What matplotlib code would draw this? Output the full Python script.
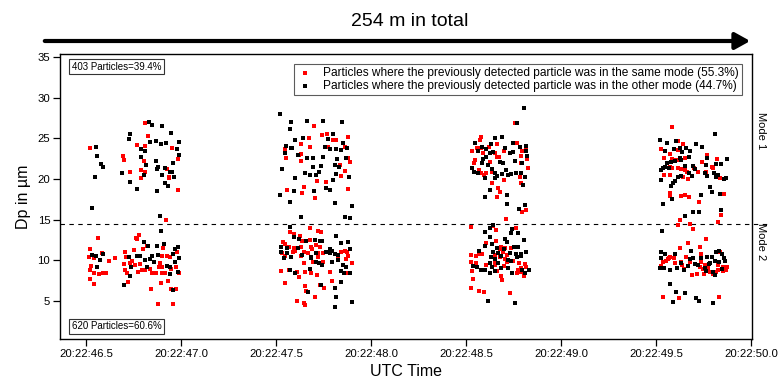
import matplotlib
matplotlib.use("Agg")
import matplotlib.pyplot as plt

# ---------------- data (time = seconds after 20:22, Dp in µm) ----------------
# Segment 1
same_seg1 = [(46.81,26.92),(46.828,25.36),(46.768,24.18),(46.809,24.1),(46.953,23.85),(46.523,23.85),(46.693,22.82),(46.698,22.33),(46.807,22.25),(46.982,22.45),(46.788,21.1),(46.733,20.9),(46.811,20.82),(46.926,21.23),(46.935,20.28),(46.939,20.07),(46.79,20.16),(46.983,18.64),(46.923,14.95),
    (46.781,13.1),(46.768,12.57),(46.763,12.69),(46.561,12.69),(46.521,11.34),(46.584,10.93),(46.707,11.05),(46.751,11.26),(46.798,11.34),(46.821,11.75),(46.904,11.46),(46.979,11.05),(46.518,10.44),(46.54,10.24),(46.654,10.32),(46.619,9.95),(46.742,9.95),(46.9,10.52),(46.926,10.56),(46.944,10.44),(46.711,10.44),(46.733,9.62),(46.76,9.42),(46.786,9.54),(46.891,9.7),(46.9,9.21),(46.528,9.34),(46.523,8.8),(46.54,8.39),(46.567,8.31),(46.588,8.39),(46.605,8.47),(46.707,8.8),(46.716,8.47),(46.774,8.6),(46.812,8.8),(46.835,8.88),(46.847,8.39),(46.868,8.47),(46.9,8.39),(46.918,8.47),(46.949,8.88),(46.882,9.21),(46.976,9.21),(46.988,8.39),(46.519,7.7),(46.542,7.08),(46.719,7.28),(46.895,7.24),(46.931,7.45),(46.842,6.43),(46.946,6.5),(46.976,6.4),(46.879,4.58),(46.96,4.58),(46.795,8.8),(46.698,9.54)]
other_seg1 = [(46.83,27.05),(46.847,26.64),(46.9,26.55),(46.733,25.53),(46.725,24.9),(46.947,25.61),(46.838,24.58),(46.868,24.71),(46.897,24.34),(46.923,24.5),(46.988,24.58),(46.554,23.97),(46.791,23.76),(46.809,23.48),(46.979,23.76),(46.988,22.95),(46.558,22.82),(46.789,22.74),(46.868,22.25),(46.956,22.0),(46.579,21.8),(46.59,21.5),(46.816,21.67),(46.879,21.51),(46.914,21.39),(46.874,21.18),(46.94,20.9),(46.953,20.82),(46.69,20.69),(46.803,20.49),(46.902,20.49),(46.965,20.2),(46.546,20.2),(46.733,19.58),(46.914,19.46),(46.932,19.17),(46.768,18.72),(46.874,18.52),(46.533,16.43),(46.888,15.4),
    (46.895,13.64),(46.803,12.29),(46.909,12.0),(46.826,11.75),(46.874,11.75),(46.982,11.67),(46.97,11.34),(46.532,10.64),(46.553,10.56),(46.588,10.77),(46.725,10.44),(46.768,10.52),(46.786,10.56),(46.847,10.56),(46.879,10.64),(46.956,10.77),(46.575,10.03),(46.812,10.03),(46.839,10.11),(46.856,9.83),(46.991,10.24),(46.56,9.13),(46.739,9.13),(46.821,9.21),(46.926,9.29),(46.944,9.21),(46.97,9.83),(46.944,8.31),(46.984,8.6),(46.73,8.1),(46.702,6.96),(46.958,6.34)]
# Segment 2
same_seg2 = [(47.7,26.48),(47.742,25.41),(47.77,25.49),(47.672,25.0),(47.8,24.84),(47.818,24.84),(47.879,25.12),(47.633,24.3),(47.681,23.98),(47.774,23.98),(47.861,23.98),(47.549,23.65),(47.633,23.07),(47.619,22.95),(47.879,22.54),(47.888,22.05),(47.551,22.54),(47.633,22.25),(47.839,21.72),(47.865,21.02),(47.84,20.41),(47.716,19.75),(47.765,19.67),(47.647,19.05),(47.879,18.77),(47.558,18.61),(47.637,18.32),(47.704,17.7),
    (47.677,13.93),(47.721,13.6),(47.735,13.52),(47.572,13.52),(47.593,13.19),(47.628,12.99),(47.677,12.5),(47.639,12.37),(47.537,12.21),(47.546,12.0),(47.567,11.67),(47.593,11.47),(47.633,11.67),(47.683,11.67),(47.712,11.88),(47.73,11.67),(47.69,11.35),(47.647,11.06),(47.532,10.85),(47.59,11.06),(47.602,11.18),(47.669,10.85),(47.721,10.85),(47.747,10.94),(47.844,11.06),(47.876,11.06),(47.549,10.57),(47.633,10.53),(47.721,10.36),(47.826,10.32),(47.879,10.57),(47.695,9.83),(47.647,9.71),(47.747,9.83),(47.867,10.12),(47.9,9.63),(47.568,8.8),(47.528,8.68),(47.612,8.6),(47.651,8.52),(47.686,8.47),(47.718,8.19),(47.783,8.6),(47.876,8.47),(47.619,7.9),(47.549,7.17),(47.795,7.49),(47.655,6.84),(47.73,6.96),(47.66,6.26),(47.751,6.55),(47.704,5.44),(47.612,4.99),(47.647,4.71),(47.654,4.5),(47.865,11.14)]
other_seg2 = [(47.521,27.99),(47.577,27.05),(47.576,26.15),(47.663,27.17),(47.747,27.17),(47.847,27.05),(47.8,25.53),(47.774,24.92),(47.642,25.0),(47.598,24.8),(47.554,24.1),(47.581,23.85),(47.586,23.77),(47.76,23.98),(47.786,23.65),(47.818,23.69),(47.84,23.57),(47.853,24.5),(47.874,23.85),(47.549,23.15),(47.616,22.95),(47.665,22.54),(47.695,22.54),(47.747,22.75),(47.823,22.42),(47.868,22.62),(47.809,21.72),(47.832,21.51),(47.739,21.6),(47.695,21.51),(47.533,21.19),(47.651,20.78),(47.725,20.9),(47.681,20.49),(47.709,20.49),(47.818,20.61),(47.882,20.2),(47.598,20.16),(47.8,19.88),(47.762,18.85),(47.783,18.65),(47.595,18.52),(47.7,18.56),(47.523,18.03),(47.572,17.13),(47.809,17.0),(47.9,16.72),(47.63,15.28),(47.861,15.36),(47.888,15.16),
    (47.572,14.13),(47.595,12.9),(47.818,13.03),(47.621,12.58),(47.66,12.37),(47.704,12.5),(47.733,12.42),(47.742,12.42),(47.84,12.08),(47.879,12.21),(47.525,11.67),(47.558,11.47),(47.616,11.47),(47.782,11.39),(47.797,11.18),(47.888,11.39),(47.525,10.98),(47.56,10.85),(47.581,10.36),(47.639,10.65),(47.683,10.45),(47.712,10.85),(47.765,11.06),(47.782,10.85),(47.809,10.77),(47.826,10.65),(47.542,10.32),(47.683,10.32),(47.709,9.83),(47.725,9.63),(47.795,9.83),(47.826,10.04),(47.853,9.42),(47.87,9.21),(47.844,8.72),(47.858,8.39),(47.888,8.39),(47.742,9.42),(47.677,8.92),(47.602,8.39),(47.576,8.8),(47.844,7.37),(47.739,6.96),(47.809,6.55),(47.669,6.14),(47.818,5.44),(47.9,4.91),(47.809,4.3)]
# Segment 3
same_seg3 = [(48.756,26.92),(48.577,25.2),(48.572,24.79),(48.665,24.26),(48.619,23.89),(48.581,23.85),(48.558,23.85),(48.533,23.43),(48.747,24.5),(48.769,24.38),(48.795,23.48),(48.818,23.56),(48.788,22.82),(48.698,23.48),(48.651,23.15),(48.59,23.23),(48.546,22.33),(48.54,21.92),(48.672,22.74),(48.663,22.74),(48.823,22.41),(48.625,22.12),(48.791,22.0),(48.567,21.1),(48.581,20.69),(48.593,20.48),(48.607,20.69),(48.826,21.38),(48.639,20.89),(48.783,20.28),(48.7,19.87),(48.791,19.54),(48.639,19.46),(48.669,18.93),(48.681,18.35),(48.663,17.74),(48.795,15.97),(48.818,16.18),(48.709,15.07),
    (48.642,14.21),(48.656,13.72),(48.525,14.13),(48.761,14.01),(48.66,12.37),(48.607,12.16),(48.739,11.55),(48.686,11.67),(48.677,11.34),(48.695,11.06),(48.707,11.47),(48.718,10.65),(48.551,10.57),(48.525,10.65),(48.567,10.77),(48.586,10.77),(48.651,10.65),(48.528,9.83),(48.554,9.62),(48.607,9.42),(48.651,9.42),(48.677,10.36),(48.704,10.11),(48.718,9.83),(48.747,9.95),(48.779,9.62),(48.809,9.54),(48.818,9.21),(48.791,9.0),(48.77,8.39),(48.791,8.6),(48.774,8.8),(48.805,8.06),(48.532,8.68),(48.663,8.68),(48.686,8.1),(48.537,7.69),(48.691,7.57),(48.525,6.55),(48.569,6.26),(48.595,6.05),(48.73,6.01),(48.651,9.95),(48.698,9.33)]
other_seg3 = [(48.805,28.81),(48.77,26.96),(48.546,24.46),(48.654,25.08),(48.691,25.12),(48.747,24.38),(48.783,23.97),(48.814,24.05),(48.633,24.26),(48.584,23.97),(48.563,23.48),(48.607,23.64),(48.625,23.15),(48.642,23.35),(48.73,23.15),(48.747,23.35),(48.823,22.82),(48.818,23.43),(48.704,23.85),(48.59,22.45),(48.607,22.66),(48.677,22.12),(48.695,21.92),(48.76,22.25),(48.795,21.92),(48.586,21.92),(48.616,21.71),(48.637,21.18),(48.532,21.3),(48.54,20.89),(48.563,20.69),(48.651,20.69),(48.665,20.36),(48.69,20.61),(48.721,20.48),(48.735,20.57),(48.765,20.69),(48.791,20.77),(48.598,20.07),(48.654,20.07),(48.712,21.1),(48.809,20.28),(48.8,19.26),(48.625,18.64),(48.598,17.82),(48.716,18.03),(48.718,16.92),(48.809,16.75),(48.779,16.26),
    (48.642,14.33),(48.628,13.92),(48.742,13.88),(48.735,13.31),(48.598,13.51),(48.625,12.9),(48.774,13.39),(48.805,12.49),(48.704,12.57),(48.716,12.28),(48.598,11.79),(48.637,12.0),(48.753,11.67),(48.7,11.34),(48.774,11.67),(48.665,11.47),(48.57,11.18),(48.642,11.06),(48.669,10.85),(48.686,10.53),(48.73,10.94),(48.765,10.77),(48.791,10.77),(48.633,10.44),(48.651,10.11),(48.669,9.7),(48.625,9.62),(48.537,9.33),(48.56,9.21),(48.637,9.21),(48.721,10.03),(48.739,9.9),(48.577,8.8),(48.598,8.8),(48.628,8.39),(48.651,8.68),(48.682,9.0),(48.721,9.0),(48.742,8.39),(48.796,8.8),(48.809,8.39),(48.832,8.8),(48.818,11.06),(48.791,10.57),(48.616,4.99),(48.756,4.7),(48.77,10.44)]
# Segment 4
same_seg4 = [(49.586,26.35),(49.528,23.65),(49.616,24.67),(49.642,24.26),(49.616,23.56),(49.54,22.54),(49.572,23.03),(49.586,22.46),(49.604,22.33),(49.619,22.33),(49.651,22.62),(49.744,22.13),(49.821,22.46),(49.77,22.95),(49.795,21.52),(49.572,21.52),(49.584,21.31),(49.616,21.31),(49.633,21.19),(49.651,21.11),(49.698,21.39),(49.721,20.9),(49.665,20.82),(49.542,20.49),(49.572,20.49),(49.642,20.29),(49.669,20.0),(49.765,20.9),(49.8,21.31),(49.835,20.16),(49.572,18.24),(49.572,17.95),(49.633,17.91),(49.654,18.03),(49.672,17.83),(49.856,18.15),(49.726,17.21),(49.84,15.57),(49.826,14.75),(49.626,14.96),(49.677,14.5),(49.616,14.34),(49.695,13.81),
    (49.761,12.62),(49.669,12.09),(49.733,11.59),(49.625,11.47),(49.735,10.73),(49.835,10.98),(49.572,10.45),(49.595,10.32),(49.563,10.12),(49.537,9.83),(49.554,9.91),(49.66,10.45),(49.677,9.83),(49.63,9.83),(49.639,9.42),(49.647,8.93),(49.739,9.83),(49.733,9.22),(49.747,8.93),(49.774,9.01),(49.826,9.42),(49.853,9.22),(49.875,9.22),(49.87,8.76),(49.826,8.81),(49.783,8.6),(49.598,9.62),(49.528,9.3),(49.718,8.27),(49.691,8.19),(49.753,8.27),(49.8,8.27),(49.818,8.6),(49.853,8.72),(49.537,5.44),(49.621,5.32),(49.832,5.44),(49.569,10.24),(49.756,9.42)]
other_seg4 = [(49.812,25.49),(49.523,24.8),(49.558,24.47),(49.607,24.67),(49.712,24.26),(49.744,23.97),(49.546,23.48),(49.595,23.65),(49.628,23.77),(49.639,23.36),(49.66,23.77),(49.677,23.48),(49.672,22.74),(49.625,22.54),(49.598,22.21),(49.633,22.33),(49.77,22.54),(49.818,21.84),(49.844,21.84),(49.875,22.46),(49.558,21.92),(49.577,22.13),(49.537,21.31),(49.528,21.11),(49.546,21.52),(49.567,21.39),(49.654,21.64),(49.695,21.64),(49.704,21.19),(49.765,21.72),(49.756,20.7),(49.77,20.37),(49.805,20.7),(49.818,20.29),(49.826,20.49),(49.87,20.16),(49.858,20.0),(49.674,20.7),(49.691,20.41),(49.616,20.29),(49.633,20.37),(49.528,19.87),(49.602,19.75),(49.581,19.14),(49.59,19.46),(49.795,18.44),(49.783,19.06),(49.835,18.15),(49.739,18.03),(49.586,17.5),(49.537,16.92),(49.695,15.9),(49.726,15.9),(49.651,15.49),(49.844,16.19),(49.532,13.6),
    (49.686,11.14),(49.528,10.98),(49.546,10.73),(49.598,10.73),(49.818,10.98),(49.832,11.14),(49.677,10.16),(49.695,10.24),(49.739,10.24),(49.77,10.45),(49.795,10.45),(49.847,10.73),(49.856,10.32),(49.861,9.91),(49.633,9.62),(49.669,9.34),(49.704,9.5),(49.721,9.42),(49.783,9.62),(49.809,9.91),(49.528,10.24),(49.542,9.01),(49.572,8.81),(49.519,9.01),(49.647,8.81),(49.756,9.01),(49.765,8.68),(49.8,8.6),(49.847,8.93),(49.612,9.09),(49.809,8.19),(49.576,7.08),(49.607,6.14),(49.651,5.94),(49.709,5.32),(49.726,4.99),(49.8,4.79),(49.59,4.91),(49.777,9.5),(49.832,9.83)]

mode_boundary = 14.5
tick_pos = [46.5, 47.0, 47.5, 48.0, 48.5, 49.0, 49.5, 50.0]
tick_labels = ["20:22:46.5", "20:22:47.0", "20:22:47.5", "20:22:48.0",
               "20:22:48.5", "20:22:49.0", "20:22:49.5", "20:22:50.0"]
y_ticks = [5, 10, 15, 20, 25, 30, 35]
label_same = "Particles where the previously detected particle was in the same mode (55.3%)"
label_other = "Particles where the previously detected particle was in the other mode (44.7%)"
mode1_text = "403 Particles=39.4%"
mode2_text = "620 Particles=60.6%"

# ---------------- plotting ----------------
plt.rcParams['font.family'] = ['Liberation Sans', 'DejaVu Sans']

fig = plt.figure(figsize=(7.81, 3.83), dpi=100)
ax = fig.add_axes([60/781, 1-339/383, 692/781, 285/383])

same_all = same_seg1 + same_seg2 + same_seg3 + same_seg4
other_all = other_seg1 + other_seg2 + other_seg3 + other_seg4

ax.scatter([p[0] for p in same_all], [p[1] for p in same_all], marker='s', s=12,
           c='#ff0000', linewidths=0, label=label_same, zorder=3)
ax.scatter([p[0] for p in other_all], [p[1] for p in other_all], marker='s', s=12,
           c='#000000', linewidths=0, label=label_other, zorder=4)

ax.set_xlim(46.363, 50.005)
ax.set_ylim(0.3, 35.4)
ax.set_xticks(tick_pos)
ax.set_xticklabels(tick_labels, fontsize=8.2)
ax.set_yticks(y_ticks)
ax.set_yticklabels([str(v) for v in y_ticks], fontsize=8.2)
ax.tick_params(direction='out', length=5, width=0.9, top=False, right=False, pad=2)
for sp in ax.spines.values():
    sp.set_linewidth(1.0)

ax.set_xlabel("UTC Time", fontsize=11.5, labelpad=4)
ax.set_ylabel("Dp in µm", fontsize=11.5, labelpad=5)

# mode separator (extends beyond the right axis)
ax.axhline(mode_boundary, xmin=0, xmax=(770-60)/692, color='black', lw=0.8,
           ls=(0, (4, 4)), clip_on=False, zorder=2)

ax.text(1.006, 0.73, "Mode 1", transform=ax.transAxes, rotation=-90,
        fontsize=8, ha='left', va='center')
ax.text(1.006, 0.34, "Mode 2", transform=ax.transAxes, rotation=-90,
        fontsize=8, ha='left', va='center')

box = dict(boxstyle='square,pad=0.25', fc='white', ec='#333333', lw=0.8)
ax.text(0.017, 0.955, mode1_text, transform=ax.transAxes, fontsize=7,
        ha='left', va='center', bbox=box, zorder=6)
ax.text(0.017, 0.045, mode2_text, transform=ax.transAxes, fontsize=7,
        ha='left', va='center', bbox=box, zorder=6)

leg = ax.legend(loc='upper right', bbox_to_anchor=(0.994, 0.985), fontsize=8.6,
                frameon=True, fancybox=False, edgecolor='#333333',
                handletextpad=0.9, borderpad=0.25, labelspacing=0.1,
                handlelength=1.3, markerscale=0.8)
leg.get_frame().set_linewidth(0.8)

# distance arrow and title
fig.patches.append(matplotlib.patches.FancyArrowPatch(
    (42/781, 1-41/383), (753/781, 1-41/383), transform=fig.transFigure,
    arrowstyle='-|>,head_length=9,head_width=5', mutation_scale=1,
    color='black', lw=3))
fig.text(410/781, 1-21/383, "254 m in total", fontsize=14, ha='center', va='center')

fig.savefig("out.png", dpi=100)
